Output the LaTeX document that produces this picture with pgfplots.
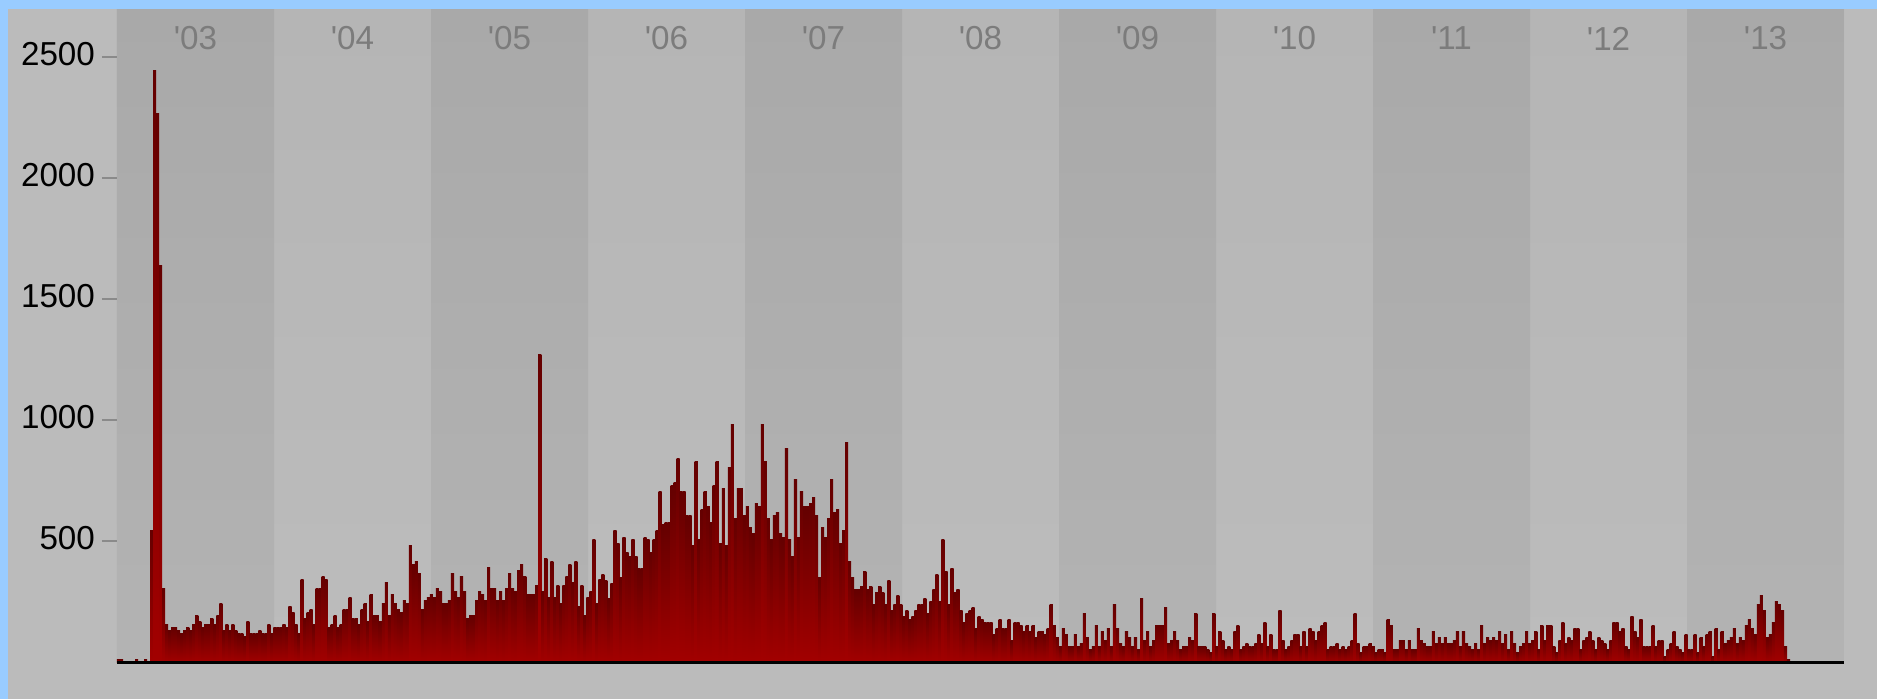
\documentclass[border=0pt]{standalone}
\usepackage{fontspec}
\setmainfont{Liberation Sans}
\usepackage{pgfplots}
\usepackage{pgfplotstable}
\pgfplotsset{compat=1.18}
\definecolor{outerbg}{HTML}{BBBBBB}
\definecolor{bluebd}{HTML}{99CCFF}
\definecolor{darktop}{HTML}{A9A9A9}
\definecolor{darkbot}{HTML}{B3B3B3}
\definecolor{lighttop}{HTML}{B5B5B5}
\definecolor{lightbot}{HTML}{BCBCBC}
\definecolor{bartop}{HTML}{640000}
\definecolor{barbot}{HTML}{A20000}
\definecolor{yearcol}{HTML}{7C7C7C}
\definecolor{tickcol}{HTML}{8A8A8A}
\pgfdeclareplotmark{nothing}{}
\pgfplotstableread[row sep=\\]{
v\\
14\\14\\nan\\nan\\nan\\nan\\14\\nan\\nan\\14\\
nan\\546\\2442\\2268\\1638\\305\\156\\131\\144\\144\\
131\\119\\131\\144\\131\\156\\193\\169\\144\\156\\
156\\181\\156\\193\\243\\131\\156\\131\\156\\131\\
119\\119\\106\\169\\119\\119\\119\\131\\119\\119\\
156\\119\\144\\144\\144\\156\\144\\231\\206\\156\\
119\\343\\181\\206\\218\\156\\305\\305\\355\\343\\
144\\156\\193\\144\\156\\218\\218\\268\\181\\181\\
156\\218\\243\\169\\280\\193\\193\\169\\243\\330\\
193\\280\\243\\218\\206\\256\\243\\484\\405\\417\\
367\\218\\256\\268\\280\\268\\305\\293\\243\\243\\
256\\367\\293\\268\\355\\293\\181\\193\\193\\256\\
293\\280\\256\\392\\305\\305\\256\\293\\256\\305\\
367\\305\\293\\380\\405\\355\\280\\280\\280\\318\\
1273\\
293\\430\\268\\417\\268\\318\\243\\318\\355\\405\\
330\\417\\231\\318\\193\\268\\293\\508\\243\\343\\
365\\340\\265\\327\\543\\493\\352\\518\\456\\439\\
506\\439\\390\\390\\518\\506\\456\\506\\543\\705\\
568\\580\\580\\730\\742\\842\\705\\705\\605\\605\\
481\\829\\506\\630\\705\\643\\580\\730\\829\\493\\
717\\481\\804\\983\\593\\717\\717\\605\\643\\556\\
531\\655\\643\\983\\829\\593\\506\\605\\618\\531\\
518\\883\\506\\439\\755\\518\\705\\643\\643\\655\\
680\\605\\352\\556\\518\\593\\755\\618\\630\\493\\
543\\908\\415\\
352\\303\\303\\315\\377\\303\\315\\240\\290\\315\\
290\\240\\340\\216\\240\\278\\240\\191\\216\\178\\
191\\216\\240\\240\\265\\203\\253\\303\\365\\253\\
506\\377\\240\\390\\290\\303\\216\\166\\203\\216\\
228\\141\\191\\178\\166\\166\\166\\116\\141\\178\\
141\\141\\178\\91\\166\\166\\153\\129\\153\\129\\
153\\104\\129\\129\\116\\141\\240\\153\\104\\66\\
141\\116\\66\\66\\116\\66\\79\\203\\104\\54\\
66\\153\\66\\129\\91\\141\\66\\240\\141\\79\\
66\\129\\104\\66\\104\\54\\265\\91\\129\\66\\
91\\153\\153\\153\\228\\79\\91\\129\\91\\54\\
66\\66\\104\\91\\203\\66\\66\\66\\54\\41\\
203\\66\\129\\91\\54\\66\\54\\129\\153\\54\\
66\\79\\66\\66\\79\\116\\79\\166\\66\\116\\
54\\54\\216\\91\\54\\66\\91\\116\\116\\66\\
129\\66\\141\\129\\91\\129\\153\\166\\54\\66\\
66\\79\\54\\66\\54\\66\\91\\203\\79\\41\\
66\\66\\79\\66\\41\\54\\54\\41\\178\\153\\
54\\54\\91\\91\\54\\91\\54\\54\\141\\91\\
79\\66\\66\\129\\79\\104\\79\\104\\79\\79\\
91\\129\\66\\129\\79\\66\\54\\79\\54\\153\\
79\\104\\91\\104\\91\\129\\
79\\116\\54\\129\\79\\41\\66\\79\\129\\79\\
91\\129\\54\\153\\91\\153\\153\\66\\41\\91\\
166\\79\\104\\91\\141\\141\\54\\91\\104\\129\\
91\\54\\104\\91\\79\\54\\91\\166\\166\\129\\
141\\66\\54\\191\\129\\104\\178\\66\\66\\66\\
153\\66\\91\\91\\25\\54\\79\\129\\66\\54\\
41\\116\\54\\54\\116\\41\\104\\66\\116\\129\\
25\\141\\54\\129\\79\\91\\104\\141\\79\\104\\
91\\153\\178\\141\\116\\240\\278\\216\\104\\116\\
166\\253\\240\\216\\66\\12\\
}\weekly
\begin{document}
\begin{tikzpicture}
\fill[outerbg] (-58.5pt,-18.25pt) rectangle (880pt,331.25pt);
\begin{axis}[
  scale only axis, width=863.5pt, height=327pt,
  xmin=0, xmax=573.96, ymin=0, ymax=2700,
  axis on top,
  axis line style={draw=none},
  axis background/.style={top color=lighttop, bottom color=lightbot},
  ytick={500,1000,1500,2000,2500},
  ytick pos=left,
  tick align=outside, major tick length=7.5pt,
  ytick style={tickcol, line width=1pt},
  yticklabel style={font=\fontsize{16.6}{20}\selectfont, text=black, anchor=east, yshift=1.5pt},
  xtick={26.09,78.27,130.45,182.63,234.80,286.98,339.16,391.34,443.52,495.70,547.88},
  xticklabels={\textquotesingle03,\textquotesingle04,\textquotesingle05,\textquotesingle06,\textquotesingle07,\textquotesingle08,\textquotesingle09,\textquotesingle10,\textquotesingle11,\textquotesingle12,\textquotesingle13},
  xticklabel pos=upper,
  xtick style={draw=none},
  xticklabel style={font=\fontsize{16.6}{20}\selectfont, text=yearcol, anchor=center, yshift=-22.5pt},
  /pgf/number format/assume math mode=true,
  /pgf/number format/1000 sep={},
]
\addplot[const plot, draw=none, top color=darktop, bottom color=darkbot]
  coordinates {(0,2700) (52.18,0) (104.36,2700) (156.54,0) (208.71,2700) (260.89,0) (313.07,2700) (365.25,0) (417.43,2700) (469.61,0) (521.79,2700) (573.96,2700)} \closedcycle;
\addplot[scatter, only marks, mark=nothing, draw=none,
  visualization depends on={rawy \as \barval},
  scatter/@pre marker code/.code={%
    \pgfmathsetmacro{\barh}{\barval*0.1211111}%
    \shade[draw=none, top color=bartop, bottom color=barbot] (-0.77pt,-\barh pt) rectangle (0.77pt,0pt);%
  },
  scatter/@post marker code/.code={}]
  table[x expr=\coordindex+0.5, y=v] {\weekly};
\end{axis}
\draw[black, line width=1.5pt] (current axis.south west) -- (current axis.south east);
\fill[bluebd] (-58.5pt,-18.25pt) rectangle (-54.5pt,331.25pt);
\fill[bluebd] (-58.5pt,326.75pt) rectangle (880pt,331.25pt);
\pgfresetboundingbox
\useasboundingbox (-58.5pt,-18.25pt) rectangle (880pt,331.25pt);
\end{tikzpicture}
\end{document}
